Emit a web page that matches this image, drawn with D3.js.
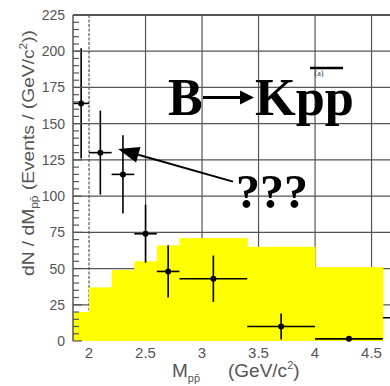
<!DOCTYPE html>
<html>
<head>
<meta charset="utf-8">
<script src="https://cdn.jsdelivr.net/npm/d3@7"></script>
<style>
  html, body { margin: 0; padding: 0; background: #fff; }
  svg { display: block; }
</style>
</head>
<body>
<svg id="chart" width="390" height="386"></svg>
<script>
"use strict";

// background histogram (yellow), bin edges in GeV/c^2
const binEdges = [1.858, 2.0, 2.2, 2.4, 2.6, 2.8, 3.4, 4.0, 4.6];
const bgCounts = [20, 37, 49, 55, 66, 71, 65, 51];

// signal yield points
const massX = [1.93, 2.1, 2.3, 2.5, 2.7, 3.1, 3.7, 4.3, 4.9];
const massErr = [0.07, 0.1, 0.1, 0.1, 0.1, 0.3, 0.3, 0.3, 0.3];
const yields = [164, 130, 115, 74, 48, 43, 10, 1.5, 16];
const yieldErr = [38, 29, 27, 20, 18, 16, 9, 1, 8];

const yTicks = [0, 25, 50, 75, 100, 125, 150, 175, 200, 225];
const xTicks = [2, 2.5, 3, 3.5, 4, 4.5];
const xTickLabels = ["2", "2.5", "3", "3.5", "4", "4.5"];

// arrow annotation, data coordinates (from, to)
const arrowFrom = [3.274, 110];
const arrowTo = [2.257, 132.5];

function translate(x, y) {
  return "translate(" + x + "," + y + ")";
}

// filled arrow: shaft + triangular head
function drawArrow(g, x0, y0, x1, y1, headLen, headW, width) {
  const ang = Math.atan2(y1 - y0, x1 - x0);
  const bx = x1 - headLen * Math.cos(ang), by = y1 - headLen * Math.sin(ang);
  g.append("line")
    .attr("x1", x0).attr("y1", y0).attr("x2", bx).attr("y2", by)
    .attr("stroke", "#000").attr("stroke-width", width);
  g.append("path")
    .attr("d", d3.line()([
      [x1, y1],
      [bx + headW * Math.sin(ang), by - headW * Math.cos(ang)],
      [bx - headW * Math.sin(ang), by + headW * Math.cos(ang)]
    ]) + "Z")
    .attr("fill", "#000");
}

const svg = d3.select("#chart");
const W = +svg.attr("width");
const plotLeft = 73, plotTop = 15, plotBottom = 341;

const x = d3.scaleLinear()
  .domain([1.858, 4.8])
  .range([plotLeft, plotLeft + (4.8 - 1.858) * 113]);
const y = d3.scaleLinear().domain([0, 225]).range([plotBottom, plotTop]);

svg.append("defs").append("clipPath").attr("id", "plot")
  .append("rect")
  .attr("x", plotLeft).attr("y", plotTop - 1)
  .attr("width", W - plotLeft).attr("height", plotBottom - plotTop + 2);

const plot = svg.append("g").attr("clip-path", "url(#plot)");

// grid
const grid = plot.append("g").attr("stroke", "#555").attr("stroke-width", 1.2);
grid.selectAll("line.h")
  .data(yTicks.slice(1, -1))
  .enter().append("line")
  .attr("x1", plotLeft).attr("x2", W)
  .attr("y1", d => y(d)).attr("y2", d => y(d));
grid.selectAll("line.v")
  .data(xTicks)
  .enter().append("line")
  .attr("x1", d => x(d)).attr("x2", d => x(d))
  .attr("y1", plotTop).attr("y2", plotBottom)
  .attr("stroke-dasharray", (d, i) => (i === 0 ? "3,1.5" : null));

// yellow background histogram
const bins = bgCounts.map((c, i) => ({ lo: binEdges[i], hi: binEdges[i + 1], c: c }));
plot.append("g").selectAll("rect")
  .data(bins)
  .enter().append("rect")
  .attr("x", d => x(d.lo))
  .attr("width", d => x(d.hi) - x(d.lo) + 0.5)
  .attr("y", d => y(d.c))
  .attr("height", d => y(0) - y(d.c))
  .attr("fill", "#ffff00");

// frame (top + left) and y ticks
svg.append("line")
  .attr("x1", plotLeft).attr("x2", W).attr("y1", plotTop).attr("y2", plotTop)
  .attr("stroke", "#555").attr("stroke-width", 2);

const minor = d3.range(0, 226, 5);
const yAxis = svg.append("g").attr("transform", translate(plotLeft, 0));
yAxis.append("line")
  .attr("y1", plotTop).attr("y2", plotBottom)
  .attr("stroke", "#555").attr("stroke-width", 1.5);
yAxis.selectAll("line.minor")
  .data(minor)
  .enter().append("line")
  .attr("x1", 0).attr("x2", d => (d % 25 === 0 ? 9 : 6))
  .attr("y1", d => y(d)).attr("y2", d => y(d))
  .attr("stroke", "#555").attr("stroke-width", 1.2);
yAxis.selectAll("text")
  .data(yTicks)
  .enter().append("text")
  .attr("x", -8)
  .attr("y", d => y(d))
  .attr("dy", "0.36em")
  .attr("text-anchor", "end")
  .attr("font-family", "Liberation Sans, Arial, sans-serif")
  .attr("font-size", 14)
  .attr("fill", "#555")
  .text(d => d);

// x tick labels
svg.append("g").selectAll("text")
  .data(xTicks)
  .enter().append("text")
  .attr("x", d => x(d))
  .attr("y", 358)
  .attr("text-anchor", "middle")
  .attr("font-family", "Liberation Sans, Arial, sans-serif")
  .attr("font-size", 15)
  .attr("fill", "#555")
  .text((d, i) => xTickLabels[i]);

// data points with error bars
const pts = massX.map((m, i) => ({ m: m, dm: massErr[i], n: yields[i], dn: yieldErr[i] }));
const pg = plot.append("g").attr("stroke", "#000").attr("stroke-width", 1.6);
pg.selectAll("line.ex")
  .data(pts)
  .enter().append("line")
  .attr("x1", d => x(d.m - d.dm)).attr("x2", d => x(d.m + d.dm))
  .attr("y1", d => y(d.n)).attr("y2", d => y(d.n));
pg.selectAll("line.ey")
  .data(pts)
  .enter().append("line")
  .attr("x1", d => x(d.m)).attr("x2", d => x(d.m))
  .attr("y1", d => y(d.n + d.dn)).attr("y2", d => y(Math.max(0, d.n - d.dn)));
plot.append("g").selectAll("circle")
  .data(pts)
  .enter().append("circle")
  .attr("cx", d => x(d.m)).attr("cy", d => y(d.n))
  .attr("r", 3).attr("fill", "#000");

// axis titles
const yTitle = svg.append("text")
  .attr("transform", translate(34, 153) + " rotate(-90) scale(1.2,1)")
  .attr("text-anchor", "middle")
  .attr("font-family", "Liberation Sans, Arial, sans-serif")
  .attr("font-size", 16)
  .attr("fill", "#555");
yTitle.append("tspan").text("dN / dM");
yTitle.append("tspan").attr("font-size", 10).attr("dy", 4).text("pp\u0304");
yTitle.append("tspan").attr("dy", -4).text(" (Events / (GeV/c");
yTitle.append("tspan").attr("font-size", 10).attr("dy", -7).text("2");
yTitle.append("tspan").attr("dy", 7).text("))");

const xTitle = svg.append("text")
  .attr("x", 172).attr("y", 377)
  .attr("font-family", "Liberation Sans, Arial, sans-serif")
  .attr("font-size", 19)
  .attr("fill", "#555");
xTitle.append("tspan").text("M");
xTitle.append("tspan").attr("font-size", 11).attr("dy", 5).text("pp\u0304");
xTitle.append("tspan").attr("x", 228).attr("dy", -5).text("(GeV/c");
xTitle.append("tspan").attr("font-size", 11).attr("dy", -8).text("2");
xTitle.append("tspan").attr("dy", 8).text(")");

// big annotation: B -> K p p(bar)
const serif = "Liberation Serif, Times New Roman, serif";
svg.append("text")
  .attr("x", 168).attr("y", 115)
  .attr("font-family", serif)
  .attr("font-weight", "bold")
  .attr("font-size", 52)
  .attr("fill", "#000")
  .text("B");
drawArrow(svg, 203, 97.5, 254, 97.5, 14, 7, 3.2);
svg.append("text")
  .attr("x", 255).attr("y", 115)
  .attr("font-family", serif)
  .attr("font-weight", "bold")
  .attr("font-size", 52)
  .attr("textLength", 99)
  .attr("lengthAdjust", "spacingAndGlyphs")
  .attr("fill", "#000")
  .text("Kpp");
svg.append("line")
  .attr("x1", 310).attr("x2", 343).attr("y1", 68).attr("y2", 68)
  .attr("stroke", "#000").attr("stroke-width", 2.5);
svg.append("text")
  .attr("x", 319).attr("y", 76)
  .attr("text-anchor", "middle")
  .attr("font-family", serif)
  .attr("font-size", 8)
  .attr("fill", "#333")
  .text("(a)");

svg.append("text")
  .attr("x", 236).attr("y", 208)
  .attr("font-family", serif)
  .attr("font-weight", "bold")
  .attr("font-size", 49)
  .attr("textLength", 72)
  .attr("lengthAdjust", "spacingAndGlyphs")
  .attr("fill", "#000")
  .text("???");

// arrow pointing at the peak
drawArrow(svg, x(arrowFrom[0]), y(arrowFrom[1]), x(arrowTo[0]), y(arrowTo[1]), 21, 8, 2);
</script>
</body>
</html>
